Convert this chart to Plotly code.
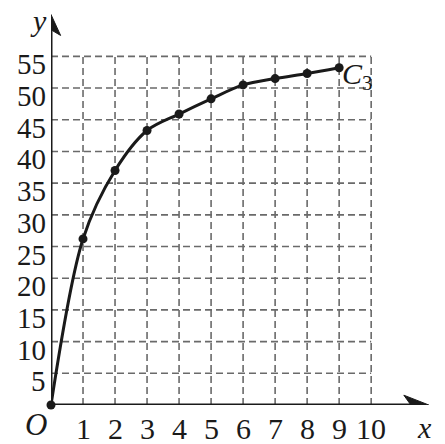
import plotly.graph_objects as go

# data
x_vals = [0, 1, 2, 3, 4, 5, 6, 7, 8, 9]
y_vals = [0, 26.2, 37.0, 43.3, 45.9, 48.3, 50.5, 51.5, 52.3, 53.2]
x_ticks = [1, 2, 3, 4, 5, 6, 7, 8, 9, 10]
x_tick_labels = ["1", "2", "3", "4", "5", "6", "7", "8", "9", "10"]
y_ticks = [5, 10, 15, 20, 25, 30, 35, 40, 45, 50, 55]
y_tick_labels = ["5", "10", "15", "20", "25", "30", "35", "40", "45", "50", "55"]
curve_label = "C<sub>3</sub>"

FONT = "Liberation Serif, Times New Roman, serif"
INK = "#1a1a1a"
GRID = "#6a6a6a"

XMAX = 11.9
YMAX = 62.0

fig = go.Figure()

# grid
shapes = []
for xv in x_ticks:
    shapes.append(dict(type="line", xref="x", yref="y", x0=xv, x1=xv, y0=0, y1=max(y_ticks),
                       line=dict(color=GRID, width=1.6, dash="7px,4px"), layer="below"))
for yv in y_ticks:
    shapes.append(dict(type="line", xref="x", yref="y", x0=0, x1=max(x_ticks), y0=yv, y1=yv,
                       line=dict(color=GRID, width=1.6, dash="7px,4px"), layer="below"))

# axes lines
shapes.append(dict(type="line", xref="x", yref="y", x0=0, x1=11.3, y0=0, y1=0,
                   line=dict(color=INK, width=3)))
shapes.append(dict(type="line", xref="x", yref="y", x0=0, x1=0, y0=0, y1=59.5,
                   line=dict(color=INK, width=3)))
# arrowheads (stealth style)
shapes.append(dict(type="path", xref="x", yref="y",
                   path="M 11.80 0 L 11.02 1.55 L 11.24 0 L 11.02 -1.55 Z",
                   fillcolor=INK, line=dict(color=INK, width=1)))
shapes.append(dict(type="path", xref="x", yref="y",
                   path="M 0 61.6 L 0.30 58.3 L 0 59.2 L -0.30 58.3 Z",
                   fillcolor=INK, line=dict(color=INK, width=1)))

fig.add_trace(go.Scatter(
    x=x_vals, y=y_vals, mode="lines+markers",
    line=dict(color=INK, width=3, shape="spline", smoothing=0.9),
    marker=dict(color=INK, size=9),
    cliponaxis=False, hoverinfo="skip", showlegend=False))

annotations = []
for xv, lab in zip(x_ticks, x_tick_labels):
    annotations.append(dict(x=xv, y=0, xref="x", yref="y", text=lab, showarrow=False,
                            xanchor="center", yanchor="top", yshift=-5,
                            font=dict(family=FONT, size=30, color=INK)))
for yv, lab in zip(y_ticks, y_tick_labels):
    annotations.append(dict(x=0, y=yv, xref="x", yref="y", text=lab, showarrow=False,
                            xanchor="right", yanchor="middle", xshift=-3, yshift=-8,
                            font=dict(family=FONT, size=29, color=INK)))
annotations.append(dict(x=0, y=0, xref="x", yref="y", text="<i>O</i>", showarrow=False,
                        xanchor="right", yanchor="top", xshift=-2, yshift=0,
                        font=dict(family=FONT, size=31, color=INK)))
annotations.append(dict(x=0, y=61.6, xref="x", yref="y", text="<i>y</i>", showarrow=False,
                        xanchor="right", yanchor="middle", xshift=-2, yshift=-6,
                        font=dict(family=FONT, size=30, color=INK)))
annotations.append(dict(x=11.8, y=0, xref="x", yref="y", text="<i>x</i>", showarrow=False,
                        xanchor="center", yanchor="top", xshift=-4, yshift=-4,
                        font=dict(family=FONT, size=30, color=INK)))
annotations.append(dict(x=x_vals[-1], y=y_vals[-1], xref="x", yref="y",
                        text="<i>C</i><sub>3</sub>", showarrow=False,
                        xanchor="left", yanchor="middle", xshift=1, yshift=-8,
                        font=dict(family=FONT, size=30, color=INK)))

fig.update_layout(
    width=445, height=444,
    margin=dict(l=51, r=445 - 51 - XMAX * 32, t=444 - 39 - YMAX * 6.333, b=39, pad=0),
    paper_bgcolor="white", plot_bgcolor="white",
    shapes=shapes, annotations=annotations,
    xaxis=dict(range=[0, XMAX], visible=False, fixedrange=True),
    yaxis=dict(range=[0, YMAX], visible=False, fixedrange=True),
    showlegend=False,
)

fig.write_html("out.html", config={"displayModeBar": False},
               post_script="document.body.style.margin='0';document.body.style.overflow='hidden';")
